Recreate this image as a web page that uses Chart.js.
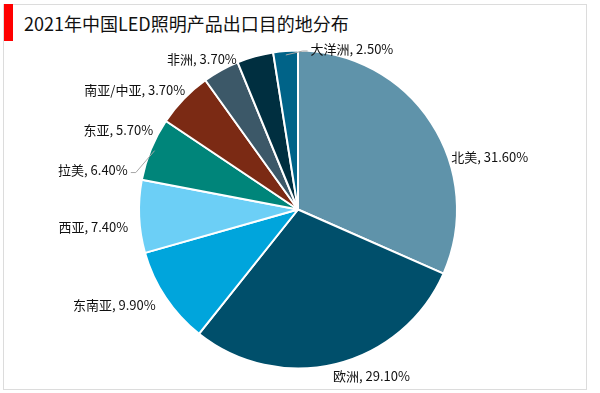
<!DOCTYPE html>
<html>
<head>
<meta charset="utf-8">
<script src="https://cdn.jsdelivr.net/npm/chart.js@4/dist/chart.umd.min.js"></script>
<style>
  body { margin: 0; background: #fff; }
  #wrap { position: relative; width: 600px; height: 393px; overflow: hidden; }
  #frame { position: absolute; left: 3px; top: 4px; width: 582px; height: 384px; border: 1px solid #dcdcdc; }
  #bar { position: absolute; left: 4px; top: 4px; width: 9px; height: 37px; background: #ff0000; }
  #title { position: absolute; left: 24px; top: 10px; font: 18px "Noto Sans CJK SC", sans-serif; color: #111; }
  canvas { position: absolute; left: 0; top: 0; }
</style>
</head>
<body>
<div id="wrap">
  <div id="frame"></div>
  <div id="bar"></div>
  <div id="title">2021年中国LED照明产品出口目的地分布</div>
  <canvas id="pie" width="600" height="393"></canvas>
</div>
<script>
const regions = ["北美", "欧洲", "东南亚", "西亚", "拉美", "东亚", "南亚/中亚", "非洲", "大洋洲"];
const shares = [31.6, 29.1, 9.9, 7.4, 6.4, 5.7, 3.7, 3.7, 2.5];
const colors = ["#5f93aa", "#004f6b", "#00a5dc", "#6ccff6", "#00857a", "#7b2a14", "#3c5868", "#002f40", "#006388"];

// label nudges from the default spot beside each slice
const nudge = [[10, 41], [-6, 1], [0, 1], [1, 10], [-12, 26], [-22, 40], [-30, 30], [-15, 14], [26, 10]];
const leader = [false, false, false, false, true, false, false, false, true];

const labelPlugin = {
    id: "outLabels",
    afterDatasetsDraw(chart) {
        const ctx = chart.ctx;
        const meta = chart.getDatasetMeta(0);
        ctx.save();
        ctx.font = "13px 'Noto Sans CJK SC', sans-serif";
        ctx.fillStyle = "#111";
        ctx.textBaseline = "middle";
        meta.data.forEach((arc, i) => {
            const mid = (arc.startAngle + arc.endAngle) / 2;
            const R = arc.outerRadius;
            const lx = arc.x + (R + 12) * Math.cos(mid) + nudge[i][0];
            const ly = arc.y + (R + 12) * Math.sin(mid) + nudge[i][1];
            const right = Math.cos(mid) >= -0.1;
            const txt = regions[i] + ", " + shares[i].toFixed(2) + "%";
            ctx.textAlign = right ? "left" : "right";
            ctx.fillText(txt, lx, ly);
            if (leader[i]) {
                const ex = right ? lx - 3 : lx + 3;
                const px = arc.x + (R - 4) * Math.cos(mid);
                const py = arc.y + (R - 4) * Math.sin(mid);
                ctx.strokeStyle = "#a6a6a6";
                ctx.lineWidth = 1;
                ctx.beginPath();
                ctx.moveTo(ex, ly + 2);
                ctx.lineTo(right ? ex - 5 : ex + 5, ly + 2);
                ctx.lineTo(px, py);
                ctx.stroke();
            }
        });
        ctx.restore();
    }
};

new Chart(document.getElementById("pie"), {
    type: "pie",
    data: {
        labels: regions,
        datasets: [{
            data: shares,
            backgroundColor: colors,
            borderColor: "#ffffff",
            borderWidth: 2
        }]
    },
    options: {
        responsive: false,
        animation: false,
        layout: { padding: { left: 138, right: 142, top: 49, bottom: 23 } },
        plugins: {
            legend: { display: false },
            tooltip: { enabled: false }
        }
    },
    plugins: [labelPlugin]
});
</script>
</body>
</html>
